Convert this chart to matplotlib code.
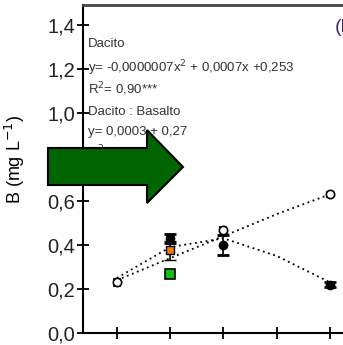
import matplotlib
matplotlib.use("Agg")
import matplotlib.pyplot as plt
from matplotlib.patches import Polygon
import numpy as np

plt.rcParams['font.family'] = ['Liberation Sans', 'DejaVu Sans']

# doses (x axis); their labels are cropped away in the reference
doses = [0, 250, 500, 750, 1000]

# Dacito : Basalto (open symbols)
open_x = [0, 500, 1000]
open_y = [0.23, 0.47, 0.63]
open_err = [0.015, 0.012, 0.012]

# Dacito (filled symbols)
fill_x = [250, 500, 1000]
fill_y = [0.43, 0.40, 0.22]
fill_err = [0.02, 0.045, 0.012]

# single treatments at 250
orange_y, orange_err = 0.375, 0.045
green_y = 0.27

# dotted trend lines
lin_y = [0.24, 0.34, 0.44, 0.54, 0.63]
quad_y = [0.25, 0.39, 0.43, 0.35, 0.23]

ytick_vals = [0.0, 0.2, 0.4, 0.6, 0.8, 1.0, 1.2, 1.4]
ytick_labels = ['0,0', '0,2', '0,4', '0,6', '0,8', '1,0', '1,2', '1,4']

fig = plt.figure(figsize=(3.43, 3.45), dpi=100)
W, H = 343, 345
left, right, top, bottom = 83, 362, 5, 333
ax = fig.add_axes([left / W, (H - bottom) / H, (right - left) / W, (bottom - top) / H])

ax.plot(doses, lin_y, ls=(0, (1, 2)), color='black', lw=1.3, zorder=2)
ax.plot(doses, quad_y, ls=(0, (1, 2)), color='black', lw=1.3, zorder=2)

ax.errorbar(open_x, open_y, yerr=open_err, fmt='o', ms=6, mfc='white', mec='black',
            mew=1.2, ecolor='black', elinewidth=1.2, capsize=3, zorder=4)
ax.errorbar(fill_x, fill_y, yerr=fill_err, fmt='o', ms=6, mfc='black', mec='black',
            ecolor='black', elinewidth=1.2, capsize=4, capthick=2, zorder=4)
ax.errorbar([250], [orange_y], yerr=[orange_err], fmt='s', ms=6, mfc='#f07c10', mec='black',
            mew=1, ecolor='black', elinewidth=1.2, capsize=4, capthick=1.5, zorder=5)
ax.plot([250], [green_y], 's', ms=7, mfc='#10c010', mec='black', mew=1.2, zorder=5)

ax.set_xlim(-159, 1150)
ax.set_ylim(0, 1.49)
ax.set_yticks(ytick_vals)
ax.set_yticklabels(ytick_labels)
ax.set_xticks(doses)
ax.set_xticklabels([])
ax.tick_params(axis='y', direction='inout', length=9, width=1.3, labelsize=14.5, pad=1,
               labelcolor='#222222')
ax.tick_params(axis='x', direction='inout', length=8, width=1.3)
ax.spines['right'].set_visible(False)
ax.spines['left'].set_linewidth(1.5)
ax.spines['bottom'].set_linewidth(1.5)
ax.spines['top'].set_linewidth(2)
ax.spines['top'].set_color('#444444')

ax.set_ylabel('B (mg L$^{-1}$)', fontsize=13, labelpad=2)
ax.yaxis.set_label_coords(-0.2, 0.53)

fs = 9.5
tx = 88
def ytxt(py):
    return (H - py) / H
fig.text(tx / W, ytxt(44), 'Dacito', fontsize=fs, va='center', color='#333333')
fig.text(tx / W, ytxt(68), 'y= -0,0000007x$^2$ + 0,0007x +0,253', fontsize=fs, va='center', color='#333333')
fig.text(tx / W, ytxt(89), 'R$^2$= 0,90***', fontsize=fs, va='center', color='#333333')
fig.text(tx / W, ytxt(112), 'Dacito : Basalto', fontsize=fs, va='center', color='#333333')
fig.text(tx / W, ytxt(132), 'y= 0,0003 + 0,27', fontsize=fs, va='center', color='#333333')
fig.text(tx / W, ytxt(152), 'R$^2$= 0,85**', fontsize=fs, va='center', color='#333333')
fig.text(335 / W, ytxt(27), '(b)', fontsize=14, va='center', color='#3a2a6a')

# big green arrow drawn over the panel
arrow_px = [(48, 148), (147, 148), (147, 130), (183, 167), (147, 203), (147, 185), (48, 185)]
arrow = Polygon([(x / W, (H - y) / H) for x, y in arrow_px], closed=True,
                transform=fig.transFigure, facecolor='#006400', edgecolor='black',
                lw=1.5, zorder=10)
fig.patches.append(arrow)

fig.savefig('out.png', dpi=100)
